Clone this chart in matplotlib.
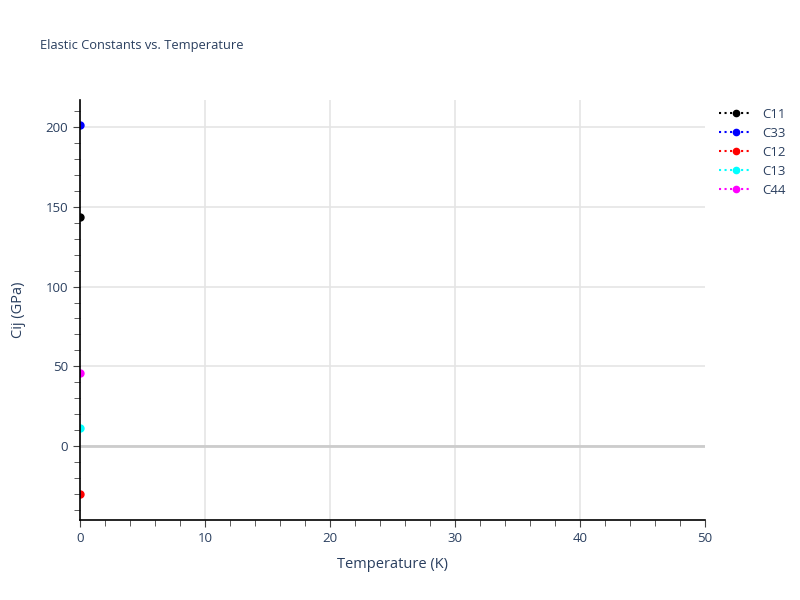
import matplotlib
matplotlib.use("Agg")
import matplotlib.pyplot as plt
from matplotlib.ticker import MultipleLocator

temperature = [0]
series_names = ["C11", "C33", "C12", "C13", "C44"]
series_values = {
    "C11": [143.6],
    "C33": [201.3],
    "C12": [-30.1],
    "C13": [11.3],
    "C44": [45.8],
}
series_colors = {"C11": "black", "C33": "blue", "C12": "red", "C13": "cyan", "C44": "magenta"}

text_color = "#2a3f5f"
plt.rcParams["font.family"] = ["Open Sans", "DejaVu Sans"]

fig = plt.figure(figsize=(8, 6), dpi=100)
ax = fig.add_axes([0.1, 0.1333, 0.78125, 0.7])

for name in series_names:
    ax.plot(temperature, series_values[name], linestyle=":", marker="o", markersize=5,
            color=series_colors[name], label=name, linewidth=1.5, zorder=3)

ax.set_xlim(0, 50)
ax.set_ylim(-46.4, 217)
ax.xaxis.set_major_locator(MultipleLocator(10))
ax.xaxis.set_minor_locator(MultipleLocator(2))
ax.yaxis.set_major_locator(MultipleLocator(50))
ax.yaxis.set_minor_locator(MultipleLocator(10))

ax.grid(True, which="major", color="#e5e5e5", linewidth=1.2, zorder=0)
ax.axhline(0, color="#cccccc", linewidth=2, zorder=1)

fig.canvas.draw()
for tick in ax.xaxis.get_major_ticks():
    if abs(tick.get_loc() - 50) < 1e-6:
        tick.gridline.set_visible(False)

for s in ["top", "right"]:
    ax.spines[s].set_visible(False)
for s in ["left", "bottom"]:
    ax.spines[s].set_color("black")
    ax.spines[s].set_linewidth(1.2)
    ax.spines[s].set_zorder(4)

ax.tick_params(which="major", direction="out", length=5, color="#444444", labelcolor=text_color, labelsize=9.5)
ax.tick_params(which="minor", direction="out", length=4, color="#444444")
ax.set_axisbelow(True)

ax.set_xlabel("Temperature (K)", color=text_color, fontsize=10.5, labelpad=9)
ax.set_ylabel("Cij (GPa)", color=text_color, fontsize=10.5, labelpad=14)

fig.text(0.05, 0.925, "Elastic Constants vs. Temperature", color=text_color, fontsize=9.3, va="center")

leg = ax.legend(loc="upper left", bbox_to_anchor=(1.01, 1.0), frameon=False, fontsize=9.5,
                handlelength=2.5, labelcolor=text_color, borderaxespad=0.2, labelspacing=0.45,
                markerscale=0.9)

for tick in ax.xaxis.get_major_ticks():
    if abs(tick.get_loc() - 50) < 1e-6:
        tick.gridline.set_visible(False)

fig.savefig("out.png", dpi=100)
